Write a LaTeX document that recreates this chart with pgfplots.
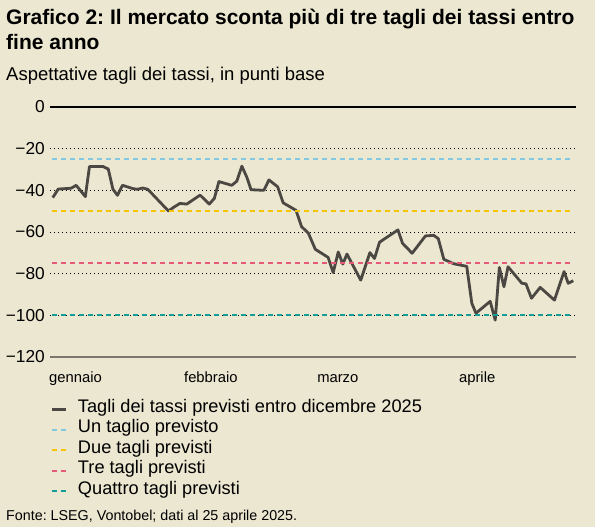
\documentclass[border=0pt]{standalone}
\usepackage{fontspec}
\setmainfont{Liberation Sans}
\usepackage{pgfplots}
\pgfplotsset{compat=1.18}
\usepackage{pgfplotstable}
\definecolor{bg}{RGB}{235,231,208}
\definecolor{mainline}{RGB}{75,71,67}
\definecolor{cblue}{RGB}{130,200,225}
\definecolor{cyellow}{RGB}{245,195,0}
\definecolor{cpink}{RGB}{228,90,120}
\definecolor{cteal}{RGB}{20,158,150}
\definecolor{baseg}{RGB}{122,119,108}
\pgfplotstableread{
x y
0.6 -43.5
1.8 -39.4
4.6 -39.0
5.7 -37.6
7.7 -43.0
8.6 -28.6
11.6 -28.6
12.7 -29.8
13.7 -39.4
14.7 -42.4
15.8 -37.6
18.1 -39.2
19.0 -39.5
20.2 -38.9
21.3 -39.5
25.8 -49.9
26.9 -48.2
28.3 -46.3
29.8 -46.6
32.7 -42.3
34.7 -46.6
35.8 -43.9
36.8 -35.8
39.6 -37.6
40.7 -35.6
41.8 -28.4
42.9 -33.8
43.8 -39.7
46.6 -40.0
47.7 -35.0
49.6 -38.3
50.8 -46.0
53.6 -49.6
54.8 -57.4
56.3 -60.6
57.8 -68.3
60.6 -72.2
61.7 -79.5
62.8 -69.6
63.8 -75.4
64.7 -70.6
67.7 -83.1
69.7 -69.9
70.7 -72.7
71.8 -64.9
75.8 -59.0
76.8 -65.4
78.9 -70.2
81.8 -61.9
83.6 -61.6
84.6 -63.2
85.8 -73.1
87.9 -75.2
90.8 -76.5
91.9 -94.2
92.8 -99.0
95.9 -93.3
97.0 -102.3
97.9 -77.0
98.9 -86.3
99.8 -76.7
102.8 -84.6
103.7 -84.9
104.9 -91.8
106.8 -86.6
109.9 -92.7
112.0 -79.0
112.9 -84.6
114.0 -83.4
}\ratecuts
\begin{document}
\frenchspacing
\begin{tikzpicture}[x=1pt,y=1pt]
\path[use as bounding box] (0,0) rectangle (595,527);
\fill[bg] (0,0) rectangle (595,527);
\node[anchor=base west, inner sep=0pt, font=\fontsize{21}{25}\selectfont\bfseries] at (6,502) {Grafico 2: Il mercato sconta più di tre tagli dei tassi entro};
\node[anchor=base west, inner sep=0pt, font=\fontsize{21}{25}\selectfont\bfseries] at (6,477) {fine anno};
\node[anchor=base west, inner sep=0pt, font=\fontsize{18.5}{22}\selectfont] at (6,446) {Aspettative tagli dei tassi, in punti base};
\begin{axis}[
  at={(50pt,170pt)}, anchor=south west,
  scale only axis, width=526pt, height=250pt,
  xmin=0, xmax=114.6, ymin=-120, ymax=0,
  clip=false,
  axis line style={draw=none},
  major tick length=0pt,
  ytick={-120,-100,-80,-60,-40,-20,0},
  yticklabels={−120,−100,−80,−60,−40,−20,0},
  yticklabel style={font=\fontsize{17.3}{20}\selectfont, anchor=east, inner sep=0pt, xshift=-5pt},
  xtick={0,29.4,58.4,89.3},
  xticklabels={gennaio,febbraio,marzo,aprile},
  xticklabel style={font=\fontsize{14.8}{17}\selectfont, anchor=base west, inner sep=0pt, yshift=-26pt, xshift=-1pt},
  ymajorgrids,
  grid style={black, line width=0.9pt, dash pattern=on 0.9pt off 3.1pt},
  legend style={at={(axis description cs:0,-0.168)}, anchor=north west, draw=none, fill=none,
    font=\fontsize{18.2}{21}\selectfont, row sep=0pt, inner sep=0pt,
    nodes={inner xsep=0pt, inner ysep=0pt, text height=13pt, text depth=7.5pt},
    /tikz/every odd column/.append style={column sep=11pt}},
  legend cell align=left,
  legend image code/.code={\draw[#1] (0pt,0pt) -- (14pt,0pt);},
]
\addplot[mainline, line width=2.8pt, line join=round] table {\ratecuts};
\addlegendentry{Tagli dei tassi previsti entro dicembre 2025}
\addplot[cblue, line width=2pt, dash pattern=on 5pt off 4pt] coordinates {(0.4,-25) (114,-25)};
\addlegendentry{Un taglio previsto}
\addplot[cyellow, line width=2pt, dash pattern=on 5pt off 4pt] coordinates {(0.4,-50) (114,-50)};
\addlegendentry{Due tagli previsti}
\addplot[cpink, line width=2pt, dash pattern=on 5pt off 4pt] coordinates {(0.4,-75) (114,-75)};
\addlegendentry{Tre tagli previsti}
\addplot[cteal, line width=2pt, dash pattern=on 5pt off 4pt] coordinates {(0.4,-100) (114,-100)};
\addlegendentry{Quattro tagli previsti}
\draw[black, line width=1.5pt] (rel axis cs:0,1) -- (rel axis cs:1,1);
\draw[baseg, line width=1.5pt] (rel axis cs:0,0) -- (rel axis cs:1,0);
\end{axis}
\node[anchor=base west, inner sep=0pt, font=\fontsize{14.3}{17}\selectfont] at (6,6) {Fonte: LSEG, Vontobel; dati al 25 aprile 2025.};
\end{tikzpicture}
\end{document}
